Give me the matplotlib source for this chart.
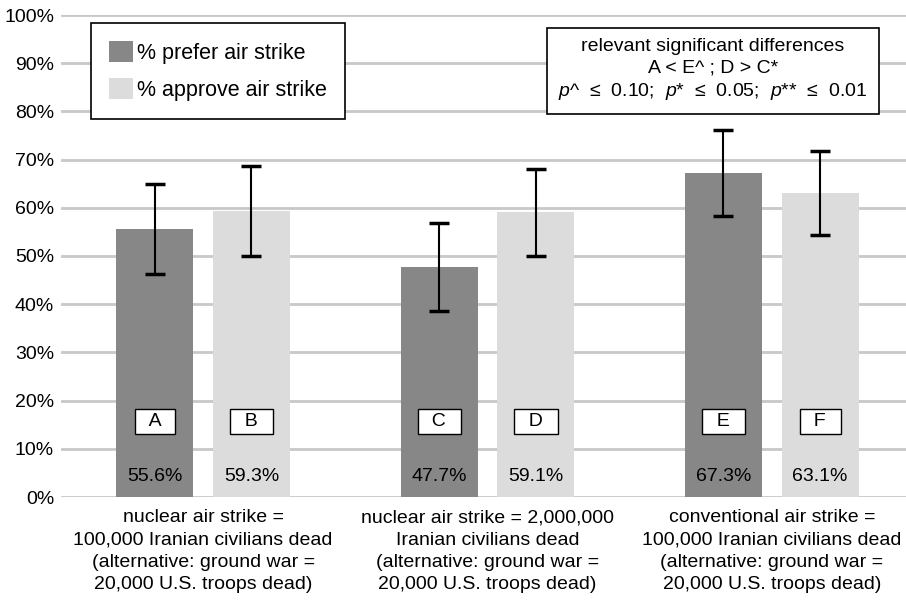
import numpy as np
import matplotlib

matplotlib.use("Agg")
import matplotlib.pyplot as plt

plt.rcParams["font.family"] = ["Liberation Sans", "DejaVu Sans"]
plt.rcParams["mathtext.fontset"] = "custom"
plt.rcParams["mathtext.rm"] = "Liberation Sans"
plt.rcParams["mathtext.it"] = "Liberation Sans:italic"

categories = [
    "nuclear air strike =\n100,000 Iranian civilians dead\n(alternative: ground war =\n20,000 U.S. troops dead)",
    "nuclear air strike = 2,000,000\nIranian civilians dead\n(alternative: ground war =\n20,000 U.S. troops dead)",
    "conventional air strike =\n100,000 Iranian civilians dead\n(alternative: ground war =\n20,000 U.S. troops dead)",
]
prefer = [55.6, 47.7, 67.3]
approve = [59.3, 59.1, 63.1]
prefer_err = [9.4, 9.1, 8.9]
approve_err = [9.3, 9.0, 8.7]
prefer_letters = ["A", "C", "E"]
approve_letters = ["B", "D", "F"]
yticks = [0, 10, 20, 30, 40, 50, 60, 70, 80, 90, 100]

dark = "#878787"
light = "#dcdcdc"
fs = 14

fig = plt.figure(figsize=(9.06, 6.02), dpi=100)
ax = fig.add_axes([61 / 906, 105 / 602, 845 / 906, 482 / 602])

x = np.arange(len(categories))
w = 0.27
off = 0.17

ax.set_axisbelow(True)
ax.yaxis.grid(True, color="#c8c8c8", linewidth=2)
ax.bar(x - off, prefer, w, color=dark, label="% prefer air strike", zorder=2)
ax.bar(x + off, approve, w, color=light, label="% approve air strike", zorder=2)
ax.errorbar(x - off, prefer, yerr=prefer_err, fmt="none", ecolor="black",
            elinewidth=1.5, capsize=7, capthick=2.5, zorder=3)
ax.errorbar(x + off, approve, yerr=approve_err, fmt="none", ecolor="black",
            elinewidth=1.5, capsize=7, capthick=2.5, zorder=3)

box = dict(boxstyle="square,pad=0.2", facecolor="white", edgecolor="black", linewidth=1)
for i in range(len(categories)):
    for xx, letter, val in [(x[i] - off, prefer_letters[i], prefer[i]),
                            (x[i] + off, approve_letters[i], approve[i])]:
        ax.text(xx, 15.7, f"  {letter}  ", ha="center", va="center", fontsize=fs,
                bbox=box, zorder=4)
        ax.text(xx, 4.2, f"{val:.1f}%", ha="center", va="center", fontsize=fs, zorder=4)

ax.set_ylim(0, 100)
ax.set_xlim(-0.5, 2.5 - 8 / 285)
ax.set_yticks(yticks)
ax.set_yticklabels([f"{t}%" for t in yticks], fontsize=fs)
ax.set_xticks(x)
ax.set_xticklabels(categories, fontsize=fs, linespacing=1.4)
ax.tick_params(axis="both", length=0)
ax.tick_params(axis="y", pad=5)
ax.tick_params(axis="x", pad=9)
for s in ax.spines.values():
    s.set_visible(False)

leg = ax.legend(loc="upper left", bbox_to_anchor=(30 / 845, 1 - 8 / 482), fontsize=15.5,
                frameon=True, fancybox=False, edgecolor="black", framealpha=1,
                borderpad=0.85, labelspacing=0.65, handlelength=1.1, handleheight=1.1,
                handletextpad=0.2, borderaxespad=0)
leg.get_frame().set_linewidth(1.2)

stats = ("relevant significant differences\n"
         "A < E^ ; D > C*\n"
         r"$p$^  ≤  0.10;  $p$*  ≤  0.05;  $p$**  ≤  0.01")
ax.text(713, 602 - 70, stats, transform=None, ha="center", va="center", fontsize=fs,
        linespacing=1.35,
        bbox=dict(boxstyle="square,pad=0.6", facecolor="white", edgecolor="black",
                  linewidth=1.2), zorder=5)

fig.savefig("out.png", dpi=100)
